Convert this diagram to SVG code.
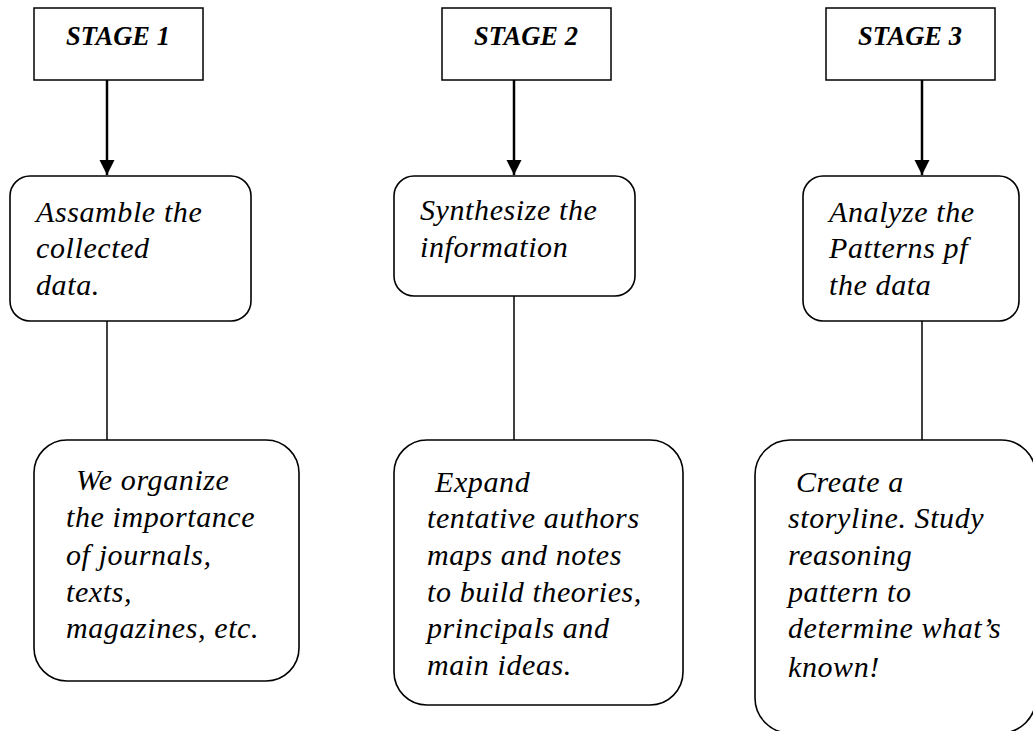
<svg xmlns="http://www.w3.org/2000/svg" width="1033" height="731" viewBox="0 0 1033 731">
  <style>
    .stage { fill: #fff; stroke: #000; stroke-width: 1.5; }
    .node { fill: #fff; stroke: #000; stroke-width: 1.6; }
    .label { font-family: "Liberation Serif", "Times New Roman", serif; font-style: italic; font-weight: bold; font-size: 26.5px; fill: #000; text-anchor: middle; }
    .body { font-family: "Liberation Serif", "Times New Roman", serif; font-style: italic; font-size: 30px; letter-spacing: 0.6px; fill: #000; }
    .arrow { stroke: #000; stroke-width: 2.5; fill: none; }
    .link { stroke: #000; stroke-width: 1.5; fill: none; }
  </style>
  <defs>
    <marker id="head" markerUnits="userSpaceOnUse" markerWidth="16" markerHeight="16" refX="15" refY="8" orient="auto">
      <path d="M0,0.5 L15,8 L0,15.5 Z" fill="#000"/>
    </marker>
  </defs>
  <rect width="1033" height="731" fill="#fff"/>

  <!-- connectors -->
  <g id="connectors">
    <line class="arrow" x1="107" y1="80" x2="107" y2="175" marker-end="url(#head)"/>
    <line class="arrow" x1="514" y1="80" x2="514" y2="175" marker-end="url(#head)"/>
    <line class="arrow" x1="922" y1="80" x2="922" y2="175" marker-end="url(#head)"/>
    <line class="link" x1="107" y1="321" x2="107" y2="440"/>
    <line class="link" x1="514" y1="296" x2="514" y2="440"/>
    <line class="link" x1="922" y1="321" x2="922" y2="440"/>
  </g>

  <!-- stage headers -->
  <g id="stage1">
    <rect class="stage" x="34" y="8" width="169" height="72"/>
    <text class="label" x="118" y="45">STAGE 1</text>
  </g>
  <g id="stage2">
    <rect class="stage" x="442" y="8" width="169" height="72"/>
    <text class="label" x="526" y="45">STAGE 2</text>
  </g>
  <g id="stage3">
    <rect class="stage" x="826" y="8" width="169" height="72"/>
    <text class="label" x="910" y="45">STAGE 3</text>
  </g>

  <!-- step boxes -->
  <g id="assemble">
    <rect class="node" x="10" y="176" width="241" height="145" rx="20" ry="20"/>
    <text class="body" x="36" y="222">Assamble the</text>
    <text class="body" x="36" y="258">collected</text>
    <text class="body" x="36" y="295">data.</text>
  </g>
  <g id="synthesize">
    <rect class="node" x="394" y="176" width="241" height="120" rx="20" ry="20"/>
    <text class="body" x="420" y="220">Synthesize the</text>
    <text class="body" x="420" y="257">information</text>
  </g>
  <g id="analyze">
    <rect class="node" x="803" y="176" width="216" height="145" rx="20" ry="20"/>
    <text class="body" x="829" y="222">Analyze the</text>
    <text class="body" x="829" y="258">Patterns pf</text>
    <text class="body" x="829" y="295">the data</text>
  </g>

  <!-- detail boxes -->
  <g id="organize">
    <rect class="node" x="34" y="440" width="265" height="241" rx="33" ry="33"/>
    <text class="body" x="76" y="490">We organize</text>
    <text class="body" x="66" y="527">the importance</text>
    <text class="body" x="66" y="565">of journals,</text>
    <text class="body" x="66" y="602">texts,</text>
    <text class="body" x="66" y="638">magazines, etc.</text>
  </g>
  <g id="expand">
    <rect class="node" x="394" y="440" width="289" height="265" rx="33" ry="33"/>
    <text class="body" x="435" y="492">Expand</text>
    <text class="body" x="427" y="528">tentative authors</text>
    <text class="body" x="427" y="565">maps and notes</text>
    <text class="body" x="427" y="602">to build theories,</text>
    <text class="body" x="427" y="638">principals and</text>
    <text class="body" x="427" y="675">main ideas.</text>
  </g>
  <g id="storyline">
    <rect class="node" x="755" y="440" width="281" height="293" rx="35" ry="35"/>
    <text class="body" x="796" y="492">Create a</text>
    <text class="body" x="788" y="528">storyline. Study</text>
    <text class="body" x="788" y="565">reasoning</text>
    <text class="body" x="788" y="602">pattern to</text>
    <text class="body" x="788" y="638">determine what’s</text>
    <text class="body" x="788" y="677">known!</text>
  </g>
</svg>
